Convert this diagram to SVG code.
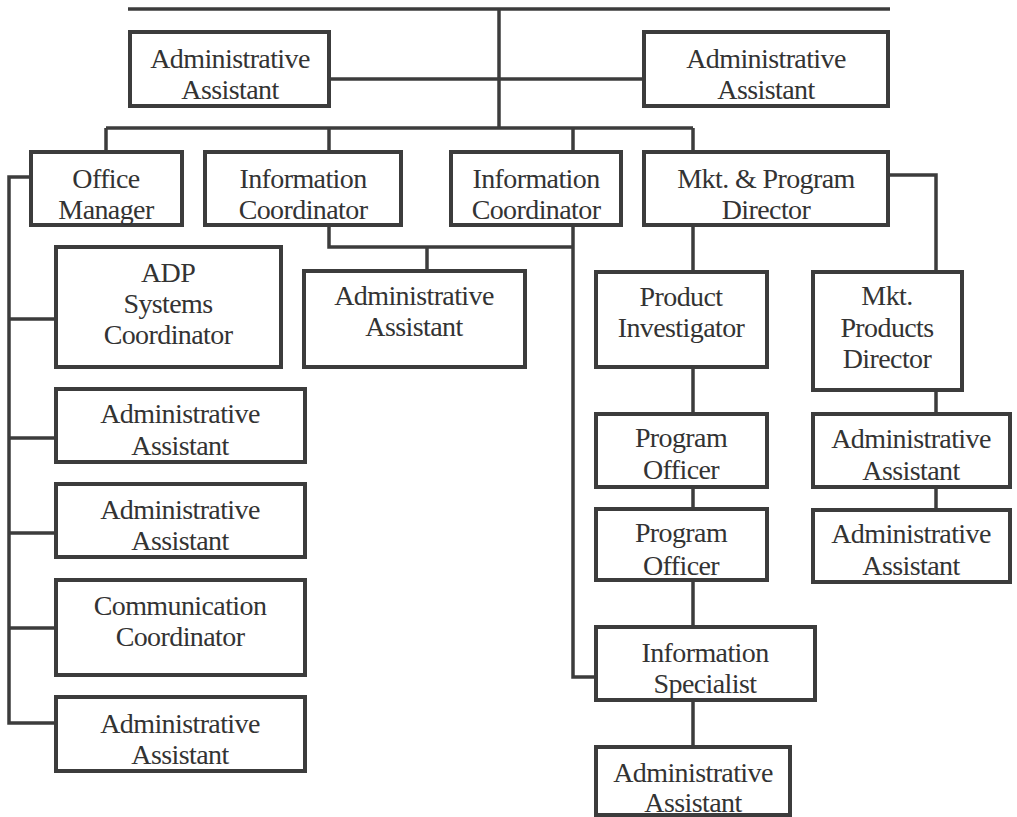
<svg xmlns="http://www.w3.org/2000/svg" width="1017" height="817" viewBox="0 0 1017 817">
<style>
.box{fill:#fff;stroke:#3c3c3c;stroke-width:4}
.ln{fill:none;stroke:#3c3c3c;stroke-width:3.5;stroke-linejoin:miter}
.t text{font-size:28px;fill:#333;text-anchor:middle;letter-spacing:-0.6px}
</style>
<rect width="1017" height="817" fill="#fff"/>
<g id="connectors">
<path class="ln" d="M128 9H890"/>
<path class="ln" d="M499 9V128"/>
<path class="ln" d="M329 79H644"/>
<path class="ln" d="M106 128H693"/>
<path class="ln" d="M106 128V152M329 128V152M573 128V152M693 128V152"/>
<path class="ln" d="M31 177H9V723H56"/>
<path class="ln" d="M9 319H56M9 438H56M9 533H56M9 628H56"/>
<path class="ln" d="M329 225V247H573"/>
<path class="ln" d="M573 225V677H596"/>
<path class="ln" d="M427 247V271"/>
<path class="ln" d="M693 225V272M693 367V414M693 487V509M693 580V627M693 700V747"/>
<path class="ln" d="M888 175H936V272M936 390V414M936 487V510"/>
</g>
<g class="t" font-family="'Liberation Serif', 'DejaVu Serif', serif">
<g id="admin-top-left"><rect class="box" x="130" y="32" width="199" height="74"/><text x="230" y="68">Administrative</text><text x="230" y="99">Assistant</text></g>
<g id="admin-top-right"><rect class="box" x="644" y="32" width="244" height="74"/><text x="766" y="68">Administrative</text><text x="766" y="99">Assistant</text></g>
<g id="office-manager"><rect class="box" x="31" y="152" width="151" height="73"/><text x="106" y="188">Office</text><text x="106" y="219">Manager</text></g>
<g id="info-coord-1"><rect class="box" x="205" y="152" width="196" height="73"/><text x="303" y="188">Information</text><text x="303" y="219">Coordinator</text></g>
<g id="info-coord-2"><rect class="box" x="451" y="152" width="170" height="73"/><text x="536" y="188">Information</text><text x="536" y="219">Coordinator</text></g>
<g id="mkt-program-director"><rect class="box" x="644" y="152" width="244" height="73"/><text x="766" y="188">Mkt. &amp; Program</text><text x="766" y="219">Director</text></g>
<g id="adp-systems-coordinator"><rect class="box" x="56" y="247" width="225" height="120"/><text x="168" y="282">ADP</text><text x="168" y="313">Systems</text><text x="168" y="344">Coordinator</text></g>
<g id="admin-mid"><rect class="box" x="304" y="271" width="221" height="96"/><text x="414" y="305">Administrative</text><text x="414" y="336">Assistant</text></g>
<g id="admin-left-2"><rect class="box" x="56" y="389" width="249" height="73"/><text x="180" y="423">Administrative</text><text x="180" y="455">Assistant</text></g>
<g id="admin-left-3"><rect class="box" x="56" y="484" width="249" height="73"/><text x="180" y="519">Administrative</text><text x="180" y="550">Assistant</text></g>
<g id="communication-coordinator"><rect class="box" x="56" y="580" width="249" height="95"/><text x="180" y="615">Communication</text><text x="180" y="646">Coordinator</text></g>
<g id="admin-left-last"><rect class="box" x="56" y="697" width="249" height="74"/><text x="180" y="733">Administrative</text><text x="180" y="764">Assistant</text></g>
<g id="product-investigator"><rect class="box" x="596" y="272" width="171" height="95"/><text x="681" y="306">Product</text><text x="681" y="337">Investigator</text></g>
<g id="mkt-products-director"><rect class="box" x="813" y="272" width="149" height="118"/><text x="887" y="305">Mkt.</text><text x="887" y="337">Products</text><text x="887" y="368">Director</text></g>
<g id="program-officer-1"><rect class="box" x="596" y="414" width="171" height="73"/><text x="681" y="447">Program</text><text x="681" y="479">Officer</text></g>
<g id="program-officer-2"><rect class="box" x="596" y="509" width="171" height="71"/><text x="681" y="542">Program</text><text x="681" y="575">Officer</text></g>
<g id="admin-right-1"><rect class="box" x="813" y="414" width="197" height="73"/><text x="911" y="448">Administrative</text><text x="911" y="480">Assistant</text></g>
<g id="admin-right-2"><rect class="box" x="813" y="510" width="197" height="72"/><text x="911" y="543">Administrative</text><text x="911" y="575">Assistant</text></g>
<g id="information-specialist"><rect class="box" x="596" y="627" width="219" height="73"/><text x="705" y="662">Information</text><text x="705" y="693">Specialist</text></g>
<g id="admin-bottom"><rect class="box" x="596" y="747" width="194" height="68"/><text x="693" y="782">Administrative</text><text x="693" y="812">Assistant</text></g>
</g>
</svg>
